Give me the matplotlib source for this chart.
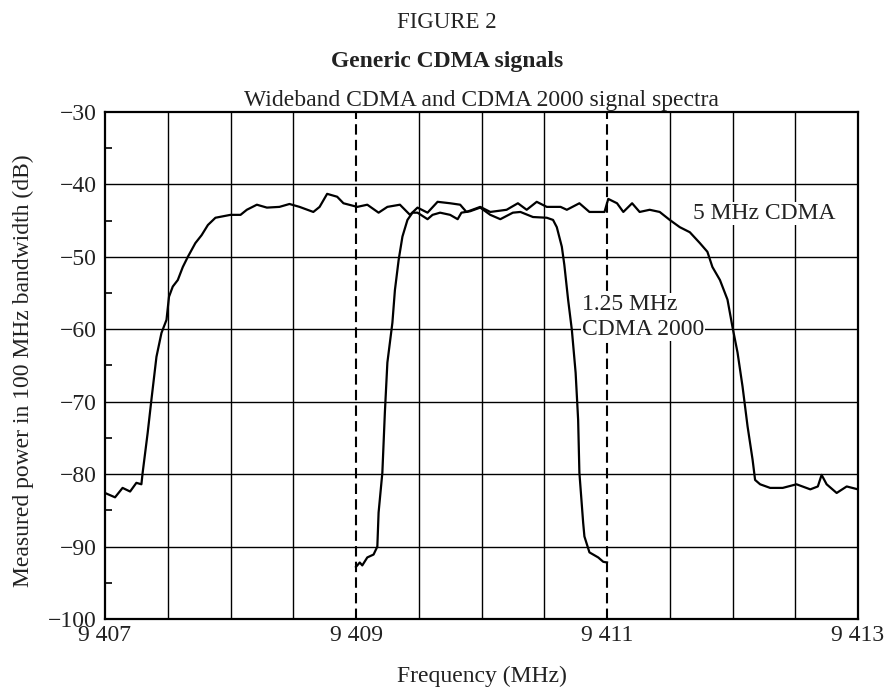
import numpy as np
import matplotlib.pyplot as plt
from matplotlib.ticker import MultipleLocator

plt.rcParams['font.family'] = ['Liberation Serif', 'DejaVu Serif']

# 5 MHz CDMA curve
f_wide = [9407.00, 9407.08, 9407.14, 9407.20, 9407.25, 9407.29, 9407.30, 9407.34,
          9407.37, 9407.41, 9407.45, 9407.49, 9407.51, 9407.54, 9407.58, 9407.62,
          9407.66, 9407.72, 9407.77, 9407.82, 9407.88, 9408.00, 9408.08, 9408.13,
          9408.21, 9408.29, 9408.39, 9408.47, 9408.55, 9408.66, 9408.71, 9408.77,
          9408.85, 9408.90, 9409.01, 9409.09, 9409.18, 9409.25, 9409.35, 9409.43,
          9409.49, 9409.57, 9409.65, 9409.75, 9409.83, 9409.88, 9409.99, 9410.07,
          9410.20, 9410.29, 9410.36, 9410.44, 9410.52, 9410.63, 9410.68, 9410.78,
          9410.86, 9410.98, 9411.01, 9411.08, 9411.13, 9411.20, 9411.26, 9411.34,
          9411.42, 9411.50, 9411.58, 9411.66, 9411.74, 9411.80, 9411.84, 9411.90,
          9411.96, 9412.00, 9412.04, 9412.08, 9412.12, 9412.16, 9412.18, 9412.22,
          9412.30, 9412.40, 9412.51, 9412.62, 9412.68, 9412.71, 9412.75, 9412.83,
          9412.91, 9413.00]
p_wide = [-82.6, -83.2, -81.9, -82.4, -81.2, -81.4, -79.8, -74.3,
          -69.7, -63.8, -60.5, -58.7, -55.5, -54.1, -53.2, -51.4,
          -50.0, -48.1, -47.0, -45.6, -44.6, -44.2, -44.2, -43.5,
          -42.8, -43.2, -43.1, -42.7, -43.1, -43.8, -43.1, -41.3,
          -41.7, -42.6, -43.1, -42.8, -43.9, -43.1, -42.8, -44.2,
          -43.2, -43.9, -42.4, -42.6, -42.8, -43.8, -43.1, -43.8,
          -43.5, -42.6, -43.5, -42.4, -43.1, -43.1, -43.5, -42.6,
          -43.8, -43.8, -42.0, -42.6, -43.8, -42.6, -43.8, -43.5,
          -43.8, -44.9, -45.9, -46.6, -48.1, -49.3, -51.4, -53.2,
          -55.9, -59.7, -63.2, -67.9, -73.4, -78.0, -80.8, -81.4,
          -81.9, -81.9, -81.4, -82.1, -81.7, -80.1, -81.4, -82.6,
          -81.7, -82.1]

# 1.25 MHz CDMA 2000 curve
f_narrow = [9409.00, 9409.03, 9409.05, 9409.09, 9409.14, 9409.17, 9409.18, 9409.21,
            9409.23, 9409.25, 9409.29, 9409.31, 9409.34, 9409.37, 9409.41, 9409.45,
            9409.49, 9409.57, 9409.61, 9409.67, 9409.75, 9409.81, 9409.84, 9409.91,
            9409.99, 9410.07, 9410.15, 9410.25, 9410.31, 9410.41, 9410.52, 9410.57,
            9410.60, 9410.64, 9410.66, 9410.69, 9410.72, 9410.75, 9410.77, 9410.78,
            9410.81, 9410.82, 9410.86, 9410.93, 9410.97, 9411.00]
p_narrow = [-92.8, -92.2, -92.6, -91.5, -91.1, -90.0, -85.3, -79.8,
            -71.5, -64.6, -59.1, -54.6, -50.4, -47.2, -44.9, -43.9,
            -43.9, -44.8, -44.2, -43.9, -44.2, -44.8, -43.9, -43.7,
            -43.2, -44.2, -44.8, -43.9, -43.8, -44.5, -44.6, -44.9,
            -45.9, -48.6, -51.1, -55.9, -60.1, -66.0, -72.5, -79.8,
            -86.7, -88.6, -90.8, -91.5, -92.1, -92.2]

x_ticks = [9407, 9409, 9411, 9413]
x_tick_labels = ['9 407', '9 409', '9 411', '9 413']
y_ticks = [-30, -40, -50, -60, -70, -80, -90, -100]

txt = '#222222'
fs = 17
fig = plt.figure(figsize=(8.84, 6.9), dpi=100)
ax = fig.add_axes([105/884, 1-619/690, 753/884, 507/690])

# grid
for xv in np.arange(9407.5, 9413, 0.5):
    if xv in (9409, 9411):
        ax.axvline(xv, color='k', lw=1.5, ls=(0, (5, 2.5)), zorder=1)
    else:
        ax.axvline(xv, color='k', lw=1.0, zorder=1)
for yv in y_ticks[1:-1]:
    ax.axhline(yv, color='k', lw=1.0, zorder=1)

ax.plot(f_wide, p_wide, color='k', lw=1.6, zorder=3)
ax.plot(f_narrow, p_narrow, color='k', lw=1.6, zorder=3)

ax.set_xlim(9407, 9413)
ax.set_ylim(-100, -30)
ax.set_xticks(x_ticks)
ax.set_xticklabels(x_tick_labels)
ax.set_yticks(y_ticks)
ax.yaxis.set_minor_locator(MultipleLocator(5))
ax.tick_params(which='major', length=0, labelsize=fs, labelcolor=txt)
ax.tick_params(axis='x', pad=4)
ax.tick_params(axis='y', pad=6)
ax.tick_params(axis='y', which='minor', direction='in', length=5, width=1.2)
for s in ax.spines.values():
    s.set_linewidth(1.6)

ax.set_xlabel('Frequency (MHz)', fontsize=fs, color=txt)
ax.xaxis.set_label_coords(0.5, -0.093)
ax.set_ylabel('Measured power in 100 MHz bandwidth (dB)', fontsize=fs, color=txt)
ax.yaxis.set_label_coords(-0.094, 0.49)
ax.set_title('Wideband CDMA and CDMA 2000 signal spectra', fontsize=fs, color=txt, pad=4)

ax.text(9411.685, -44.0, '5 MHz CDMA', fontsize=fs, color=txt, va='center', ha='left',
        bbox=dict(facecolor='white', edgecolor='none', pad=0.5), zorder=4)
ax.text(9410.80, -58.3, '1.25 MHz\nCDMA 2000', fontsize=fs, color=txt, va='center', ha='left',
        linespacing=1.25, bbox=dict(facecolor='white', edgecolor='none', pad=0.5), zorder=4)

fig.text(447/884, 1-22/690, 'FIGURE 2', fontsize=16.5, color=txt, ha='center', va='center')
fig.text(447/884, 1-62/690, 'Generic CDMA signals', fontsize=17, color=txt, ha='center',
         va='center', fontweight='bold')

plt.savefig('out.png', dpi=100)
